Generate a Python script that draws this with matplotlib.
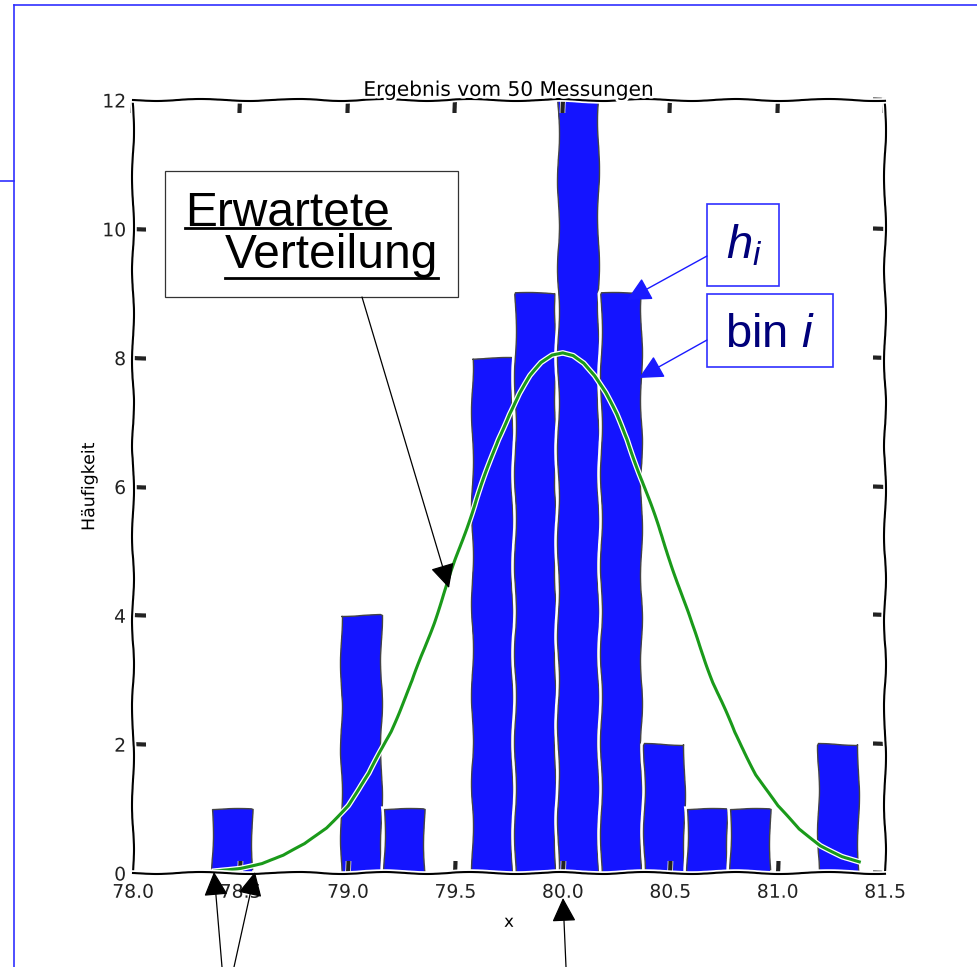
import matplotlib
matplotlib.use("Agg")
import matplotlib.pyplot as plt
from matplotlib.lines import Line2D
from matplotlib.patches import Rectangle, FancyArrowPatch

bin_centers = [78.46, 78.66, 78.86, 79.06, 79.26, 79.47, 79.67, 79.87,
               80.07, 80.27, 80.47, 80.67, 80.87, 81.07, 81.28]
counts = [1, 0, 0, 4, 1, 0, 8, 9, 12, 9, 2, 1, 1, 0, 2]

# expected distribution (green curve)
curve_x = [78.38, 78.5, 78.6, 78.7, 78.8, 78.9, 79.0, 79.1, 79.2, 79.3,
           79.4, 79.5, 79.6, 79.7, 79.75, 79.8, 79.85, 79.9, 79.95, 80.0,
           80.05, 80.1, 80.15, 80.2, 80.25, 80.3, 80.4, 80.5, 80.6, 80.7,
           80.8, 80.9, 81.0, 81.1, 81.2, 81.3, 81.38]
curve_y = [0.03, 0.08, 0.15, 0.27, 0.45, 0.70, 1.05, 1.55, 2.20, 2.98,
           3.88, 4.85, 5.82, 6.73, 7.12, 7.45, 7.72, 7.92, 8.04, 8.08,
           8.04, 7.92, 7.72, 7.45, 7.12, 6.73, 5.81, 4.85, 3.87, 2.96,
           2.18, 1.53, 1.04, 0.68, 0.43, 0.26, 0.17]

x_ticks = [78.0, 78.5, 79.0, 79.5, 80.0, 80.5, 81.0, 81.5]
y_ticks = [0, 2, 4, 6, 8, 10, 12]

title = "Ergebnis vom 50 Messungen"
x_label = "x"
y_label = "Häufigkeit"

W, H = 977, 967


def px(x, y):
    # pixel position in the picture -> figure fraction
    return x / W, 1 - y / H


with plt.xkcd():
    plt.rcParams['font.family'] = ['DejaVu Sans']
    fig = plt.figure(figsize=(W / 100, H / 100), dpi=100)
    ax = fig.add_axes([133 / W, 1 - 873 / H, 752 / W, 773 / H])

    ax.bar(bin_centers, counts, width=0.187, color='#1414ff',
           edgecolor='#444444', linewidth=1)
    line, = ax.plot(curve_x, curve_y, color='#1a9a1a', lw=2.2)
    line.set_sketch_params(0.6, 120, 2)

    ax.set_xlim(78.0, 81.5)
    ax.set_ylim(0, 12)
    ax.set_xticks(x_ticks)
    ax.set_yticks(y_ticks)
    ax.tick_params(direction='in', top=True, right=True, length=9, width=3,
                   labelsize=13.5, colors='#222222')
    ax.tick_params(axis='x', pad=7)
    ax.tick_params(axis='y', pad=5)
    ax.set_title(title, fontsize=14.5, pad=3)
    ax.set_xlabel(x_label, fontsize=12, labelpad=8)
    ax.set_ylabel(y_label, fontsize=12.5, labelpad=3)

# slide frame lines
blue = '#3030ff'
for (x0, y0), (x1, y1) in [((14, 5), (977, 5)), ((14, 5), (14, 967)),
                           ((0, 181), (14, 181))]:
    a, b = px(x0, y0)
    c, d = px(x1, y1)
    fig.add_artist(Line2D([a, c], [b, d], color=blue, lw=1.2))

# "Erwartete Verteilung" box
bx0, by0 = px(165, 297)
bx1, by1 = px(458, 171)
fig.add_artist(Rectangle((bx0, by0), bx1 - bx0, by1 - by0, fill=False,
                         edgecolor='#333333', lw=0.9))
t1 = fig.text(*px(185, 226), "Erwartete", fontsize=34.5,
              family='Liberation Sans', va='baseline', ha='left')
t2 = fig.text(*px(225, 268), "Verteilung", fontsize=34.5,
              family='Liberation Sans', va='baseline', ha='left')

# blue labelled boxes
navy = '#00007a'
plt.rcParams['mathtext.fontset'] = 'custom'
plt.rcParams['mathtext.it'] = 'Liberation Sans:italic'
plt.rcParams['mathtext.rm'] = 'Liberation Sans'
for (x0, y0, x1, y1) in [(707, 204, 779, 286), (707, 294, 833, 367)]:
    a, b = px(x0, y1)
    c, d = px(x1, y0)
    fig.add_artist(Rectangle((a, b), c - a, d - b, fill=False,
                             edgecolor=blue, lw=1.2))
fig.text(*px(744, 258), r"$h_i$", fontsize=34, color=navy,
         ha='center', va='baseline', family='Liberation Sans')
fig.text(*px(770, 347), r"bin $i$", fontsize=34, color=navy,
         ha='center', va='baseline', family='Liberation Sans')

# arrows
arrows = [((362, 297), (449, 588), 'black', 0.9),
          ((222, 967), (214, 872), 'black', 0.9),
          ((234, 967), (255, 872), 'black', 0.9),
          ((566, 967), (563, 898), 'black', 0.9),
          ((707, 256), (627, 300), '#1a1aff', 1.0),
          ((707, 340), (639, 378), '#1a1aff', 1.0)]
for start, end, col, lw in arrows:
    fig.add_artist(FancyArrowPatch(px(*start), px(*end),
                                   transform=fig.transFigure,
                                   arrowstyle='-|>,head_length=1.0,head_width=0.5',
                                   mutation_scale=15, color=col, lw=lw,
                                   shrinkA=0, shrinkB=0))

# underline the box text
fig.canvas.draw()
renderer = fig.canvas.get_renderer()
for t, yline in [(t1, 228), (t2, 278)]:
    bb = t.get_window_extent(renderer).transformed(fig.transFigure.inverted())
    yy = px(0, yline)[1]
    fig.add_artist(Line2D([bb.x0, bb.x1], [yy, yy], color='black', lw=2))

fig.savefig("out.png", dpi=100)
